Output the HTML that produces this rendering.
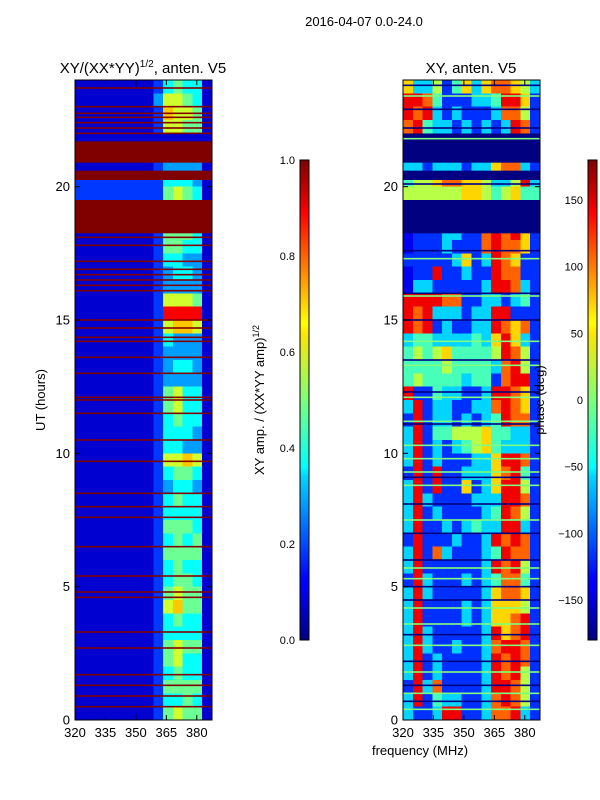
<!DOCTYPE html>
<html><head><meta charset="utf-8"><style>
html,body{margin:0;padding:0;background:#fff;}
svg{display:block;font-family:"Liberation Sans",sans-serif;}
</style></head><body>
<svg id="fig" width="600" height="800" viewBox="0 0 600 800" xmlns="http://www.w3.org/2000/svg">
<defs>
<linearGradient id="jet" x1="0" y1="1" x2="0" y2="0">
<stop offset="0" stop-color="#000080"/><stop offset="0.11" stop-color="#0000ff"/><stop offset="0.125" stop-color="#0000ff"/>
<stop offset="0.34" stop-color="#00d4ff"/><stop offset="0.36" stop-color="#0ff"/><stop offset="0.5" stop-color="#7dff7a"/>
<stop offset="0.64" stop-color="#ffe600"/><stop offset="0.66" stop-color="#ff0"/><stop offset="0.89" stop-color="#ff0000"/><stop offset="1" stop-color="#800000"/>
</linearGradient>
</defs>
<text x="364" y="26" font-size="13" text-anchor="middle">2016-04-07 0.0-24.0</text>
<text x="143" y="73" font-size="15" text-anchor="middle">XY/(XX*YY)<tspan font-size="10" dy="-6">1/2</tspan><tspan dy="6">, anten. V5</tspan></text>
<text x="471" y="73" font-size="15" text-anchor="middle">XY, anten. V5</text>
<text transform="translate(45,400) rotate(-90)" font-size="13" text-anchor="middle">UT (hours)</text>
<text x="420" y="755" font-size="13" text-anchor="middle">frequency (MHz)</text>
<text transform="translate(264,400) rotate(-90)" font-size="13" text-anchor="middle">XY amp. / (XX*YY amp)<tspan font-size="9" dy="-5">1/2</tspan></text>
<g id="left"></g>
<g id="right"></g>
<g id="axes"></g>
<rect x="300" y="160" width="9" height="480" fill="url(#jet)" stroke="#000" stroke-width="1"/>
<rect x="588" y="160" width="9" height="480" fill="url(#jet)" stroke="#000" stroke-width="1"/>
<text transform="translate(544,400) rotate(-90)" font-size="13" text-anchor="middle">phase (deg)</text>
</svg>
<script>
const tHours=[0,5,10,15,20];
const fTicks=[320,335,350,365,380];
const ampTicks=[0.0,0.2,0.4,0.6,0.8,1.0];
const phaseTicks=[-150,-100,-50,0,50,100,150];
// left grid: rows from t=24 (top) to 0, each 0.5 h; 14 freq columns 320-387.5 MHz; digit = amplitude*10
const ampRows=["11111111245441","11111111366541","11111111276651","11111111266551","11111111111111","11111111111111",
"11111111233331","22222222244431","22222222256541","11111111111111","11111111111111","11111111255541",
"11111111255441","11111111244331","11111111234431","11111111233331","11111111266651","11111111299991",
"11111111267761","11111111243331","11111111233331","11111111234431","11111111233331","11111111256441",
"11111111256441","11111111245441","11111111244431","11111111244331","11111111266761","11111111245541",
"11111111234431","11111111245441","11111111244441","11111111255541","11111111245451","11111111255551",
"11111111245441","11111111245541","11111111256551","11111111267551","11111111245441","11111111244441",
"11111111256551","11111111256441","11111111245441","11111111255551","11111111244541","11111111256551"];
// right grid: digit -> phase via phaseLevels
const phaseLevels=[-180,-140,-118,-60,-20,20,60,100,140,180];
const phaseRows=["63352463677653","88742223348862","87832322237752","78433232323872","00000000000000","00000000000000",
"33233323367732","45567766533583","55555566545644","00000000000000","00000000000000","12223322787862",
"12223222787762","22222362387622","12282232287722","13322222388732","88887722332342","87833323388222",
"87823223387672","34433334368632","45456444458752","44445444437852","45444434427882","82243322388762",
"38233223378762","28233232348772","38244555644332","38232345643332","38232223368872","28282233367842",
"38282262368852","38322223338872","38232222348752","38223234338832","28222322387872","38273222348772",
"38222222387852","28322232347742","38322222367762","38222232366652","38222232366782","38322222386782",
"38322322378872","38232222387872","38232222387852","28372222388752","38243322378752","32238822377832"];
const flagged=[[18.25,19.5],[20.25,20.6],[20.9,21.7]];
const ampRedLines=[23.7,23.0,22.75,22.6,22.4,22.2,22.0,18.1,17.8,17.2,16.9,16.7,16.5,16.3,16.1,15.0,14.7,14.35,14.2,13.6,13.0,12.1,12.0,11.5,10.5,9.7,8.5,8.0,7.6,6.5,5.4,4.8,4.6,3.3,2.7,1.7,1.3,0.9,0.5];
const phaseGreenLines=[23.4,21.8,17.3,15.9,14.2,13.3,12.1,11.2,10.3,9.8,9.3,8.8,7.5,5.7,5.3,4.2,3.6,2.8,1.8,1.0,0.4];
const phaseNavyLines=[23.8,22.9,22.2,20.1,17.6,16.0,15.0,13.5,12.3,11.1,9.1,8.1,7.0,6.0,5.0,4.5,3.2,2.2,1.3,0.7];

const NS="http://www.w3.org/2000/svg";
const Y0=80,Y1=720,FMIN=320,FMAX=387.5;
function yScale(t){return Y1-(t/24)*(Y1-Y0);}
function xScale(f,x0){return x0+(f-FMIN)/(FMAX-FMIN)*137;}
function cbY(frac){return 640-frac*480;}
function jet(v){v=Math.max(0,Math.min(1,v));
 const r=Math.max(0,Math.min(1,1.5-Math.abs(4*v-3))),g=Math.max(0,Math.min(1,1.5-Math.abs(4*v-2))),b=Math.max(0,Math.min(1,1.5-Math.abs(4*v-1)));
 return `rgb(${Math.round(r*255)},${Math.round(g*255)},${Math.round(b*255)})`;}
function mk(tag,attrs,parent){const e=document.createElementNS(NS,tag);for(const k in attrs)e.setAttribute(k,attrs[k]);parent.appendChild(e);return e;}
function drawGrid(gid,rows,x0,valFn,flagColor,lines){
 const g=document.getElementById(gid);const nC=rows[0].length,df=(FMAX-FMIN)/nC;
 rows.forEach((row,r)=>{const t1=24-r*0.5,t0=t1-0.5;
  for(let c=0;c<nC;c++){const xa=xScale(FMIN+c*df,x0),xb=xScale(FMIN+(c+1)*df,x0);
   const e=mk('rect',{x:xa,y:yScale(t1),width:xb-xa+0.3,height:yScale(t0)-yScale(t1)+0.3,fill:jet(valFn(+row[c])),'shape-rendering':'crispEdges'},g);
   
   }});
 flagged.forEach(f=>{const e=mk('rect',{x:x0,y:yScale(f[1]),width:137,height:yScale(f[0])-yScale(f[1]),fill:flagColor},g);
  
  });
 lines.forEach(([arr,col])=>arr.forEach(t=>{const e=mk('rect',{x:x0,y:yScale(t)-0.8,width:137,height:1.6,fill:col},g);
  
  }));
}
drawGrid('left',ampRows,75,d=>d/10-0.02,'#800000',[[ampRedLines,'#800000']]);
drawGrid('right',phaseRows,403,d=>(phaseLevels[d]+180)/360,'#000080',[[phaseGreenLines,'#80ff80'],[phaseNavyLines,'#000080']]);

const ax=document.getElementById('axes');
[75,403].forEach((x0,i)=>{
 const fr=mk('rect',{x:x0,y:Y0,width:137,height:640,fill:'none',stroke:'#000','stroke-width':1},ax);
 
 
 tHours.forEach(t=>{const y=yScale(t);
  mk('line',{x1:x0,x2:x0+5,y1:y,y2:y,stroke:'#000'},ax);mk('line',{x1:x0+137,x2:x0+132,y1:y,y2:y,stroke:'#000'},ax);
  const tx=mk('text',{x:x0-5,y:y+4.5,'font-size':13,'text-anchor':'end'},ax);tx.textContent=t;
  
  });
 fTicks.forEach(f=>{const x=xScale(f,x0);
  mk('line',{x1:x,x2:x,y1:Y1,y2:Y1-5,stroke:'#000'},ax);mk('line',{x1:x,x2:x,y1:Y0,y2:Y0+5,stroke:'#000'},ax);
  const tx=mk('text',{x:x,y:737,'font-size':13,'text-anchor':'middle'},ax);tx.textContent=f;
  
  });
});
ampTicks.forEach(v=>{const y=cbY(v);mk('line',{x1:300,x2:304,y1:y,y2:y,stroke:'#000'},ax);
 const tx=mk('text',{x:295,y:y+4,'font-size':11,'text-anchor':'end'},ax);tx.textContent=v.toFixed(1);
 
 });
phaseTicks.forEach(v=>{const y=cbY((v+180)/360);mk('line',{x1:588,x2:592,y1:y,y2:y,stroke:'#000'},ax);
 const tx=mk('text',{x:583,y:y+4,'font-size':11,'text-anchor':'end'},ax);tx.textContent=v<0?'\u2212'+(-v):v;
 
 });
</script>
</body></html>
